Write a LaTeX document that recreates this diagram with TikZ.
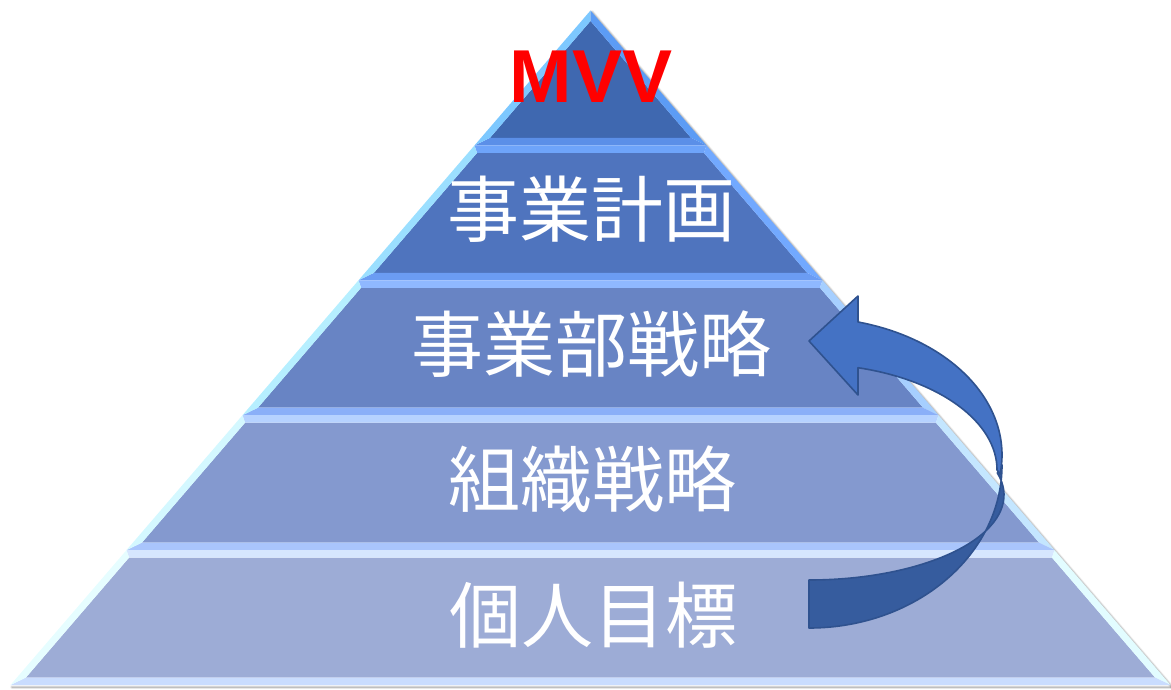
\documentclass[tikz,border=0pt]{standalone}
\usepackage{fontspec}
\newfontfamily\jpfont{Noto Sans CJK JP}
\newfontfamily\mvvfont{Liberation Sans}
\definecolor{fA}{HTML}{3F68B0}\definecolor{tA}{HTML}{3F68B0}\definecolor{rA}{HTML}{5C9CF5}\definecolor{bA}{HTML}{5B8FE8}\definecolor{lA}{HTML}{7DC8FF}
\definecolor{fB}{HTML}{4F74BE}\definecolor{tB}{HTML}{6EA4FA}\definecolor{rB}{HTML}{72A9FF}\definecolor{bB}{HTML}{6B9CF3}\definecolor{lB}{HTML}{9BDFFF}
\definecolor{fC}{HTML}{6884C4}\definecolor{tC}{HTML}{8FB8FF}\definecolor{rC}{HTML}{A6CFFF}\definecolor{bC}{HTML}{8AAFF8}\definecolor{lC}{HTML}{B6EFFF}
\definecolor{fD}{HTML}{8499CF}\definecolor{tD}{HTML}{B6D2FF}\definecolor{rD}{HTML}{C4E6FF}\definecolor{bD}{HTML}{A9C5FC}\definecolor{lD}{HTML}{D4F8FF}
\definecolor{fE}{HTML}{9DACD6}\definecolor{tE}{HTML}{D6E6FE}\definecolor{rE}{HTML}{E2FCFF}\definecolor{bE}{HTML}{C9DCFE}\definecolor{lE}{HTML}{E6FDFF}
\definecolor{arrowfront}{HTML}{4472C4}
\definecolor{arrowback}{HTML}{365C9E}
\definecolor{arrowline}{HTML}{2F528F}
\newcommand{\pyrlayer}[8]{%
  \pgfmathsetmacro\wt{0.85989*(#1-10.5)}%
  \pgfmathsetmacro\wb{0.85989*(#2-10.5)}%
  \pgfmathsetmacro\yti{#3}%
  \pgfmathsetmacro\ybi{#2-7.5}%
  \pgfmathsetmacro\wti{max(0.85989*(\yti-10.5)-9,0)}%
  \pgfmathsetmacro\wbi{0.85989*(\ybi-10.5)-9}%
  \fill[#4] (590.5-\wti,\yti) -- (590.5+\wti,\yti) -- (590.5+\wbi,\ybi) -- (590.5-\wbi,\ybi) -- cycle;
  \fill[#5] (590.5-\wt,#1) -- (590.5+\wt,#1) -- (590.5+\wti,\yti) -- (590.5-\wti,\yti) -- cycle;
  \fill[#6] (590.5+\wt,#1) -- (590.5+\wb,#2) -- (590.5+\wbi,\ybi) -- (590.5+\wti,\yti) -- cycle;
  \fill[#7] (590.5+\wb,#2) -- (590.5-\wb,#2) -- (590.5-\wbi,\ybi) -- (590.5+\wbi,\ybi) -- cycle;
  \fill[#8] (590.5-\wb,#2) -- (590.5-\wt,#1) -- (590.5-\wti,\yti) -- (590.5-\wbi,\ybi) -- cycle;
}
\tikzset{
  lbl/.style={text=white, inner sep=0pt, font=\jpfont\fontsize{72}{72}\selectfont},
  mvv/.style={text=red, inner sep=0pt, font=\mvvfont\bfseries\fontsize{75}{75}\selectfont},
  shadowline/.style={black, line cap=round},
  arrowface/.style={draw=arrowline, line width=1.6pt, line join=round},
}
\begin{document}
\begin{tikzpicture}[x=1pt,y=-1pt]
\useasboundingbox (0,0) rectangle (1171,689);
% soft shadow
\foreach \o/\op in {4/0.04,3/0.06,2/0.08,1/0.1}{
  \draw[shadowline, line width=\o pt, opacity=\op] (592,12) -- (1172,687);
  \draw[shadowline, line width=\o pt, opacity=\op] (12,687) -- (1172,687);
}
\pyrlayer{10.5}{145.4}{21}{fA}{tA}{rA}{bA}{lA}
\pyrlayer{145.4}{280.3}{152.9}{fB}{tB}{rB}{bB}{lB}
\pyrlayer{280.3}{415.2}{287.8}{fC}{tC}{rC}{bC}{lC}
\pyrlayer{415.2}{550.1}{422.7}{fD}{tD}{rD}{bD}{lD}
\pyrlayer{550.1}{685}{557.6}{fE}{tE}{rE}{bE}{lE}
% labels
\node[mvv] (mvv) at (591,76.5) {MVV};
\node[lbl] (l2) at (591.5,209) {事業計画};
\node[lbl] (l3) at (591.5,344) {事業部戦略};
\node[lbl] (l4) at (592.5,479) {組織戦略};
\node[lbl] (l5) at (593,615) {個人目標};
% curved arrow: back face (lower part)
\fill[arrowback, arrowface]
  (1002,465) arc[start angle=0, end angle=90, x radius=193, y radius=163]
  -- (809,580) arc[start angle=90, end angle=-15, x radius=195, y radius=85] -- cycle;
% front face (upper part with head)
\fill[arrowfront, arrowface]
  (1000.1,474.1) arc[start angle=8, end angle=-75.3, x radius=193, y radius=137.5]
  -- (858,296) -- (809,341) -- (858,395) -- (858,367.7)
  arc[start angle=-74.9, end angle=0, x radius=188, y radius=106] -- cycle;
\end{tikzpicture}
\end{document}
